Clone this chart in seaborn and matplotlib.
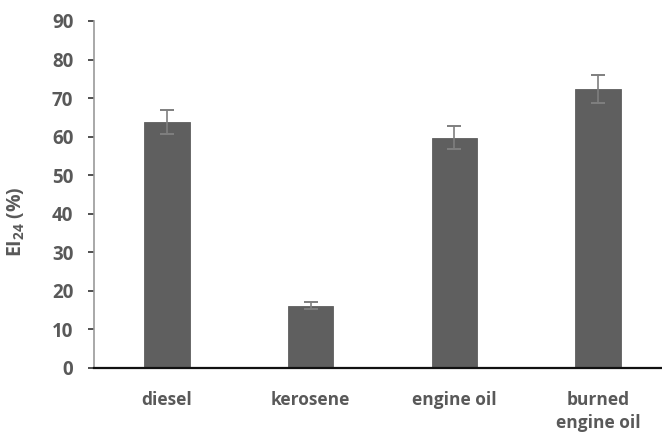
import matplotlib
matplotlib.use("Agg")
import matplotlib.pyplot as plt
import seaborn as sns
import pandas as pd

# Emulsification index after 24 h for each hydrocarbon substrate
categories = ["diesel", "kerosene", "engine oil", "burned\nengine oil"]
ei24 = [63.8, 16.1, 59.7, 72.3]
ei24_sd = [3.2, 0.9, 3.0, 3.6]
y_ticks = [0, 10, 20, 30, 40, 50, 60, 70, 80, 90]

df = pd.DataFrame({"substrate": categories, "EI24": ei24, "sd": ei24_sd})

sns.set_theme(style="white")
plt.rcParams["font.family"] = ["Open Sans", "DejaVu Sans"]
plt.rcParams["mathtext.fontset"] = "custom"
plt.rcParams["mathtext.rm"] = "Open Sans"
plt.rcParams["mathtext.bf"] = "Open Sans:bold"

text_grey = "#595959"

fig = plt.figure(figsize=(6.62, 4.36), dpi=100)
W, H = 662, 436
ax = fig.add_axes([93.5 / W, (H - 367.7) / H, (662 - 93.5) / W, (367.7 - 21) / H])

sns.barplot(data=df, x="substrate", y="EI24", color="#5f5f5f", saturation=1,
            width=0.315, errorbar=None, ax=ax, edgecolor="#5f5f5f", linewidth=0.6)
ax.errorbar(x=range(len(categories)), y=df["EI24"], yerr=df["sd"], fmt="none",
            ecolor="#7f7f7f", elinewidth=1.2, capsize=5, capthick=1.4)

ax.set_xlim(-0.511, 3.445)
ax.set_ylim(0, 90)
ax.set_yticks(y_ticks)
ax.set_yticklabels([str(t) for t in y_ticks], fontsize=13.5, fontweight="bold", color=text_grey)
ax.set_xticks(range(len(categories)))
ax.set_xticklabels(categories, fontsize=12.5, fontweight="bold", color=text_grey, linespacing=1.35)
ax.tick_params(axis="x", length=0, pad=17)
ax.tick_params(axis="y", left=True, length=4.5, width=1.2, color="#333333", pad=10, direction="out")

ax.set_xlabel("")
ax.set_ylabel(r"EI$_{\mathbf{24}}$ (%)", fontsize=14, fontweight="bold", color=text_grey)
ax.yaxis.set_label_coords(-0.117, 0.42)

for side in ["top", "right"]:
    ax.spines[side].set_visible(False)
ax.spines["left"].set_color("#999999")
ax.spines["left"].set_linewidth(1.2)
ax.spines["bottom"].set_color("#111111")
ax.spines["bottom"].set_linewidth(1.6)

fig.savefig("out.png", dpi=100)
